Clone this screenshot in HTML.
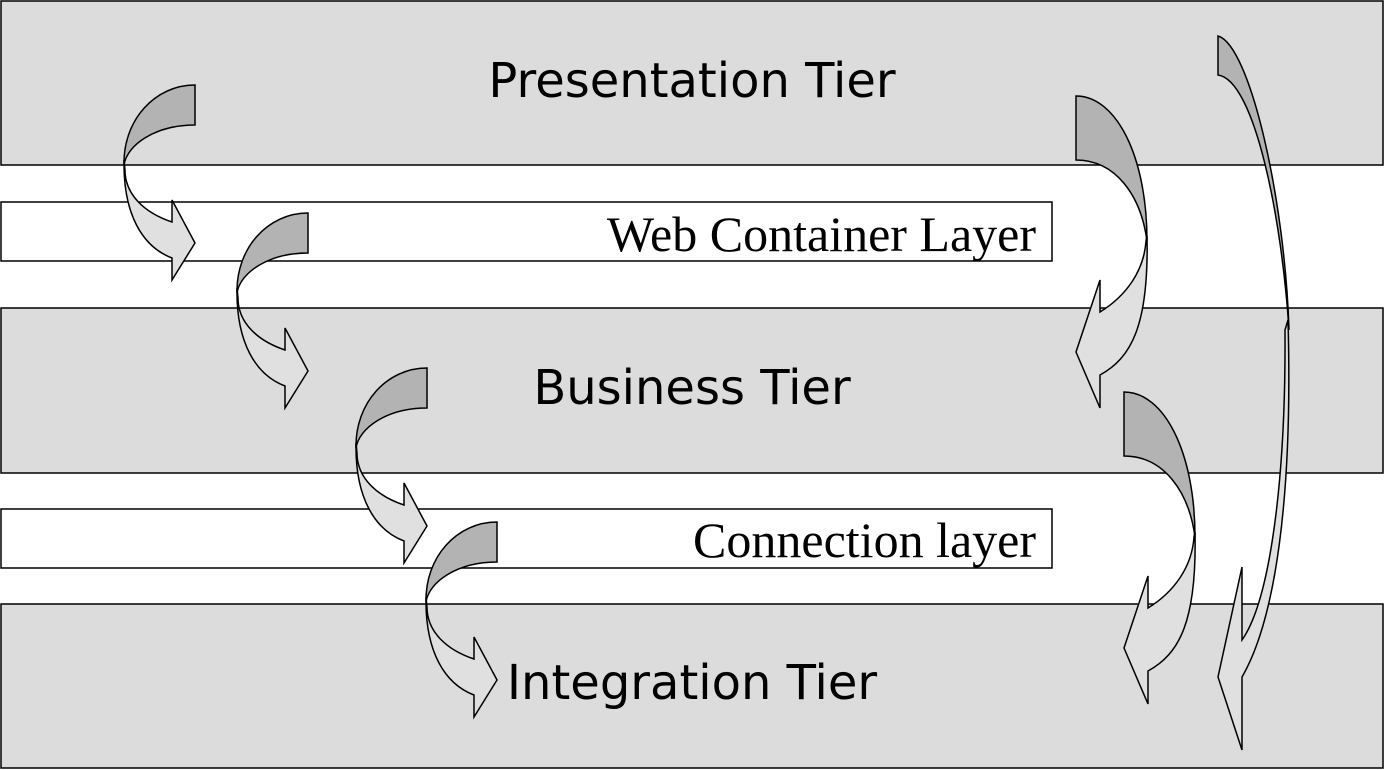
<!DOCTYPE html>
<html><head><style>
body{margin:0;background:#fff}
svg{display:block}
.t{font-family:"DejaVu Sans",sans-serif;font-size:48px;fill:#000}
.s{font-family:"Liberation Serif",serif;font-size:50px;fill:#000}
</style></head><body>
<svg width="1385" height="770" xmlns="http://www.w3.org/2000/svg">
<defs>
<g id="la">
<path d="M-71,75 C-72,130 -52,162 -23,173 L-23,195 L0,158 L-23,115 L-23,137 C-50,128 -70,110 -70,85 Z" fill="#e0e0e0" stroke="#000" stroke-width="1.5"/>
<path d="M0,0 C-40,0 -72,35 -71,80 C-68,60 -40,40 0,40 Z" fill="#b3b3b3" stroke="#000" stroke-width="1.5"/>
</g>
<g id="ra">
<path d="M71,140 C73,230 55,262 24,279 L24,312 L0,256 L24,184 L24,216 C50,200 68,175 70,145 Z" fill="#e0e0e0" stroke="#000" stroke-width="1.5"/>
<path d="M0,0 C40,0 71,60 71,145 C65,100 40,64 0,64 Z" fill="#b3b3b3" stroke="#000" stroke-width="1.5"/>
</g>
</defs>
<g stroke="#000" stroke-width="1.5">
<rect x="1" y="1" width="1382" height="164" fill="#dcdcdc"/>
<rect x="1" y="202" width="1051" height="59" fill="#fff"/>
<rect x="1" y="308" width="1382" height="165" fill="#dcdcdc"/>
<rect x="1" y="509" width="1051" height="59" fill="#fff"/>
<rect x="1" y="604" width="1382" height="164" fill="#dcdcdc"/>
</g>
<text class="t" x="692" y="97" text-anchor="middle">Presentation Tier</text>
<text class="t" x="692" y="404" text-anchor="middle">Business Tier</text>
<text class="t" x="692" y="699" text-anchor="middle">Integration Tier</text>
<text class="s" x="1036" y="251" text-anchor="end">Web Container Layer</text>
<text class="s" x="1036" y="557" text-anchor="end">Connection layer</text>
<use href="#la" x="195" y="85"/>
<use href="#la" x="308" y="213"/>
<use href="#la" x="427" y="368"/>
<use href="#la" x="497" y="522"/>
<use href="#ra" x="1076" y="96"/>
<use href="#ra" x="1124" y="392"/>
<path d="M1288,320 C1293,500 1275,620 1242,677 L1242,750 L1218,677 L1242,567 L1242,640 C1270,600 1286,480 1285,330 Z" fill="#e0e0e0" stroke="#000" stroke-width="1.5"/>
<path d="M1218,36 C1250,45 1285,200 1289,330 C1282,220 1255,80 1218,75 Z" fill="#b3b3b3" stroke="#000" stroke-width="1.5"/>
</svg>
</body></html>
